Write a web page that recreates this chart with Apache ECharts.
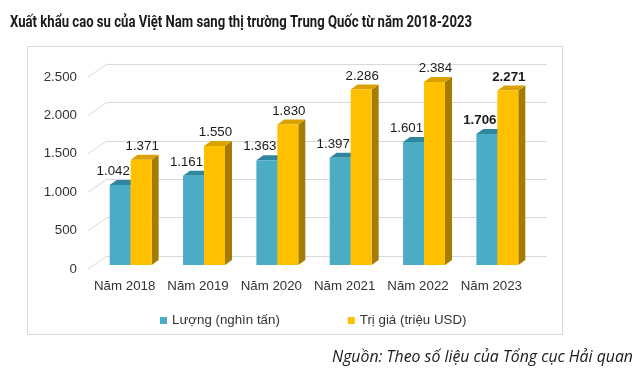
<!DOCTYPE html>
<html>
<head>
<meta charset="utf-8">
<script src="https://cdn.jsdelivr.net/npm/echarts@6/dist/echarts.min.js"></script>
<style>html,body{margin:0;padding:0;background:#fff}#c{width:640px;height:388px}</style>
</head>
<body>
<div id="c"></div>
<script>
const categories = ['Năm 2018', 'Năm 2019', 'Năm 2020', 'Năm 2021', 'Năm 2022', 'Năm 2023'];
const luong = [1042, 1161, 1363, 1397, 1601, 1706];
const trigia = [1371, 1550, 1830, 2286, 2384, 2271];
const seriesNames = ['Lượng (nghìn tấn)', 'Trị giá (triệu USD)'];
const yTicks = [0, 500, 1000, 1500, 2000, 2500];
const titleText = 'Xuất khẩu cao su của Việt Nam sang thị trường Trung Quốc từ năm 2018-2023';
const sourceText = 'Nguồn: Theo số liệu của Tổng cục Hải quan';

const FONT = '"Liberation Sans", Arial, sans-serif';
const COLORS = [
  {front: '#4BACC6', top: '#31869F', side: '#2E7C93'},
  {front: '#FFC000', top: '#D9A200', side: '#A57B00'}
];
const DEPTH_X = 7, DEPTH_Y = 5;     // bar depth
const SHIFT_X = -13, SHIFT_Y = 9;   // bar plane offset from back wall
const WALL_X = -19, WALL_Y = 13;    // side wall depth

function fmt(v) { return String(v).replace(/\B(?=(\d{3})+(?!\d))/g, '.'); }

const measureCtx = document.createElement('canvas').getContext('2d');
function fitScale(text, font, target) {
  measureCtx.font = font;
  const w = measureCtx.measureText(text).width;
  return w > 0 ? target / w : 1;
}
const TITLE_FONT_FAMILY = 'Roboto, "Open Sans", sans-serif';
const titleScale = fitScale(titleText, 'bold 16px ' + TITLE_FONT_FAMILY, 462);
const SRC_FONT_FAMILY = '"Open Sans", sans-serif';
const srcScale = fitScale(sourceText, 'italic 15.5px ' + SRC_FONT_FAMILY, 301);

function barRender(kind) {
  return function (params, api) {
    const i = api.value(0), v = api.value(1);
    const top = api.coord([i, v]);
    const base = api.coord([i, 0]);
    const band = api.size([1, 0])[0];
    const bw = band * 0.286;
    const c = top[0] + SHIFT_X;
    const ft = top[1] + SHIFT_Y, fb = base[1] + SHIFT_Y;
    const x0 = kind === 0 ? c - bw : c, x1 = x0 + bw;
    const col = COLORS[kind];
    const last = i === categories.length - 1;
    const lx = kind === 0 ? x0 + bw / 2 - 7 : x0 + bw / 2 + 1;
    return {
      type: 'group',
      children: [
        {type: 'polygon', shape: {points: [[x1, ft], [x1 + DEPTH_X, ft - DEPTH_Y], [x1 + DEPTH_X, fb - DEPTH_Y], [x1, fb]]}, style: {fill: col.side}},
        {type: 'polygon', shape: {points: [[x0, ft], [x1, ft], [x1 + DEPTH_X, ft - DEPTH_Y], [x0 + DEPTH_X, ft - DEPTH_Y]]}, style: {fill: col.top}},
        {type: 'rect', shape: {x: x0, y: ft, width: bw, height: fb - ft}, style: {fill: col.front}},
        {type: 'text', x: lx, y: ft - 13.5, style: {text: fmt(v), fill: '#1a1a1a', fontSize: 13.3, fontFamily: FONT, fontWeight: last ? 'bold' : 'normal', align: 'center', verticalAlign: 'middle'}}
      ]
    };
  };
}

function wallRender(params, api) {
  const p = api.coord([0, api.value(1)]);
  const x0 = params.coordSys.x;
  return {type: 'line', shape: {x1: x0 + WALL_X, y1: p[1] + WALL_Y, x2: x0, y2: p[1]}, style: {stroke: '#D9D9D9', lineWidth: 1}};
}

const chart = echarts.init(document.getElementById('c'), null, {renderer: 'canvas'});
chart.setOption({
  animation: false,
  backgroundColor: '#fff',
  graphic: [
    {type: 'rect', shape: {x: 27.5, y: 46.5, width: 535, height: 288}, style: {fill: 'none', stroke: '#D9D9D9', lineWidth: 1}, z: -1},
    {type: 'text', x: 10, y: 22.5, scaleX: titleScale, style: {text: titleText, fontFamily: TITLE_FONT_FAMILY, fontWeight: 'bold', fontSize: 16, fill: '#1a1a1a', align: 'left', verticalAlign: 'middle'}},
    {type: 'text', x: 633, y: 358, scaleX: srcScale, style: {text: sourceText, fontFamily: SRC_FONT_FAMILY, fontStyle: 'italic', fontSize: 15.5, fill: '#1a1a1a', align: 'right', verticalAlign: 'middle'}}
  ],
  legend: {
    data: seriesNames,
    left: 155, top: 309,
    itemWidth: 7, itemHeight: 7, itemGap: 68, icon: 'rect',
    textStyle: {fontFamily: FONT, fontSize: 13.3, color: '#333'}
  },
  grid: [
    {left: 107, right: 93, top: 64, bottom: 132},
    {left: 88, right: 112, top: 77, bottom: 119}
  ],
  xAxis: [
    {type: 'category', gridIndex: 0, data: categories, axisLine: {show: false}, axisTick: {show: false}, axisLabel: {show: false}},
    {type: 'category', gridIndex: 1, data: categories, axisLine: {show: false}, axisTick: {show: false},
     axisLabel: {interval: 0, margin: 11, fontFamily: FONT, fontSize: 13.3, color: '#333'}}
  ],
  yAxis: [
    {type: 'value', gridIndex: 0, min: 0, max: 2500, interval: 500, axisLabel: {show: false}, axisLine: {show: false}, axisTick: {show: false},
     splitLine: {lineStyle: {color: '#D9D9D9', width: 1}}},
    {type: 'value', gridIndex: 1, min: 0, max: 2500, interval: 500, splitLine: {show: false}, axisLine: {show: false}, axisTick: {show: false},
     axisLabel: {margin: 11, fontFamily: FONT, fontSize: 13.3, color: '#333', formatter: fmt}}
  ],
  series: [
    {type: 'custom', name: 'wall', xAxisIndex: 0, yAxisIndex: 0, renderItem: wallRender, data: yTicks.map(t => [0, t]), silent: true},
    {type: 'custom', name: seriesNames[0], xAxisIndex: 0, yAxisIndex: 0, renderItem: barRender(0), itemStyle: {color: COLORS[0].front}, data: luong.map((v, i) => [i, v]), z: 3},
    {type: 'custom', name: seriesNames[1], xAxisIndex: 0, yAxisIndex: 0, renderItem: barRender(1), itemStyle: {color: COLORS[1].front}, data: trigia.map((v, i) => [i, v]), z: 4}
  ]
});
</script>
</body>
</html>
